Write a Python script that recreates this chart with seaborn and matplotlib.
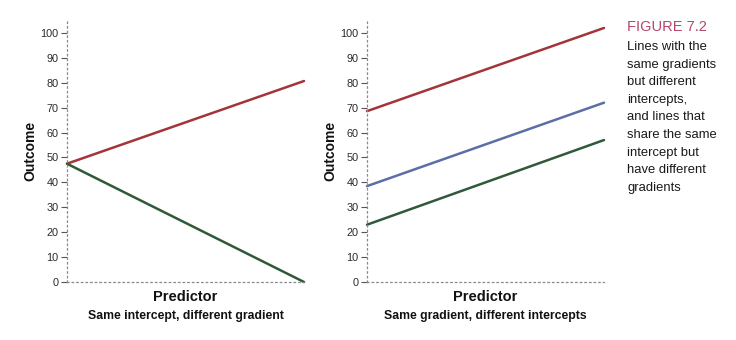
import matplotlib
matplotlib.use("Agg")
import matplotlib.pyplot as plt
from matplotlib import font_manager
import seaborn as sns
import pandas as pd

# Predictor runs from the low end to the high end of each panel
predictor = [0, 1]

# Left panel: shared intercept, different gradients
left_red = [47.5, 80.7]
left_green = [47.5, 0.0]

# Right panel: shared gradient, different intercepts
right_red = [68.6, 102.0]
right_blue = [38.5, 72.0]
right_green = [23.0, 57.0]

y_ticks = [0, 10, 20, 30, 40, 50, 60, 70, 80, 90, 100]

caption_head = "FIGURE 7.2"
caption_lines = ["Lines with the", "same gradients", "but different",
                 "intercepts,", "and lines that", "share the same",
                 "intercept but", "have different", "gradients"]

RED = "#a3343a"
BLUE = "#5b6ea8"
GREEN = "#2f5a3a"

sns.set_theme(style="white")
plt.rcParams["font.family"] = ["Liberation Sans", "DejaVu Sans"]

installed = {f.name for f in font_manager.fontManager.ttflist}
narrow = "Liberation Sans Narrow" if "Liberation Sans Narrow" in installed else "Liberation Sans"


def make_frame(series):
    rows = []
    for name, vals in series.items():
        for x, y in zip(predictor, vals):
            rows.append({"Predictor": x, "Outcome": y, "line": name})
    return pd.DataFrame(rows)


left_df = make_frame({"red": left_red, "green": left_green})
right_df = make_frame({"red": right_red, "blue": right_blue, "green": right_green})

fig = plt.figure(figsize=(7.36, 3.4), dpi=100)
ax1 = fig.add_axes([67 / 736, 58 / 340, 237 / 736, 262 / 340])
ax2 = fig.add_axes([367 / 736, 58 / 340, 237 / 736, 262 / 340])

panels = [
    (ax1, left_df, {"red": RED, "green": GREEN}, "Same intercept, different gradient"),
    (ax2, right_df, {"red": RED, "blue": BLUE, "green": GREEN}, "Same gradient, different intercepts"),
]

for ax, df, pal, sub in panels:
    sns.lineplot(data=df, x="Predictor", y="Outcome", hue="line", palette=pal,
                 linewidth=1.8, legend=False, ax=ax)
    ax.set_xlim(0, 1)
    ax.set_ylim(0, 105.2)
    ax.set_yticks(y_ticks)
    ax.set_yticklabels([str(t) for t in y_ticks], fontsize=7.8, color="#2a2a2a")
    ax.set_xticks([])
    ax.tick_params(axis="y", which="major", left=True, length=4, width=0.8,
                   color="#555555", pad=2)
    for side in ("top", "right"):
        ax.spines[side].set_visible(False)
    for side in ("left", "bottom"):
        ax.spines[side].set_linestyle((0, (1.2, 2.5)))
        ax.spines[side].set_color("#8a8a8a")
        ax.spines[side].set_linewidth(0.9)
    ax.set_facecolor("white")
    for ln in ax.lines:
        ln.set_clip_on(False)
    ax.set_ylabel("Outcome", fontsize=10, fontweight="bold", color="#111111", labelpad=2)
    ax.set_xlabel("Predictor", fontsize=10.5, fontweight="bold", color="#111111", labelpad=6)
    ax.text(0.5, -0.107, sub, transform=ax.transAxes, ha="center", va="top",
            fontsize=8.8, fontweight="bold", color="#111111")

fig.text(627 / 736, 1 - 31 / 340, caption_head, fontsize=10.5, color="#b4466a",
         family=[narrow, "DejaVu Sans"], ha="left", va="baseline")
for i, line in enumerate(caption_lines):
    fig.text(627 / 736, 1 - (50 + i * 17.6) / 340, line, fontsize=9.4,
             color="#1a1a1a", family=[narrow, "DejaVu Sans"], ha="left", va="baseline")

fig.savefig("out.png", dpi=100, facecolor="white")
